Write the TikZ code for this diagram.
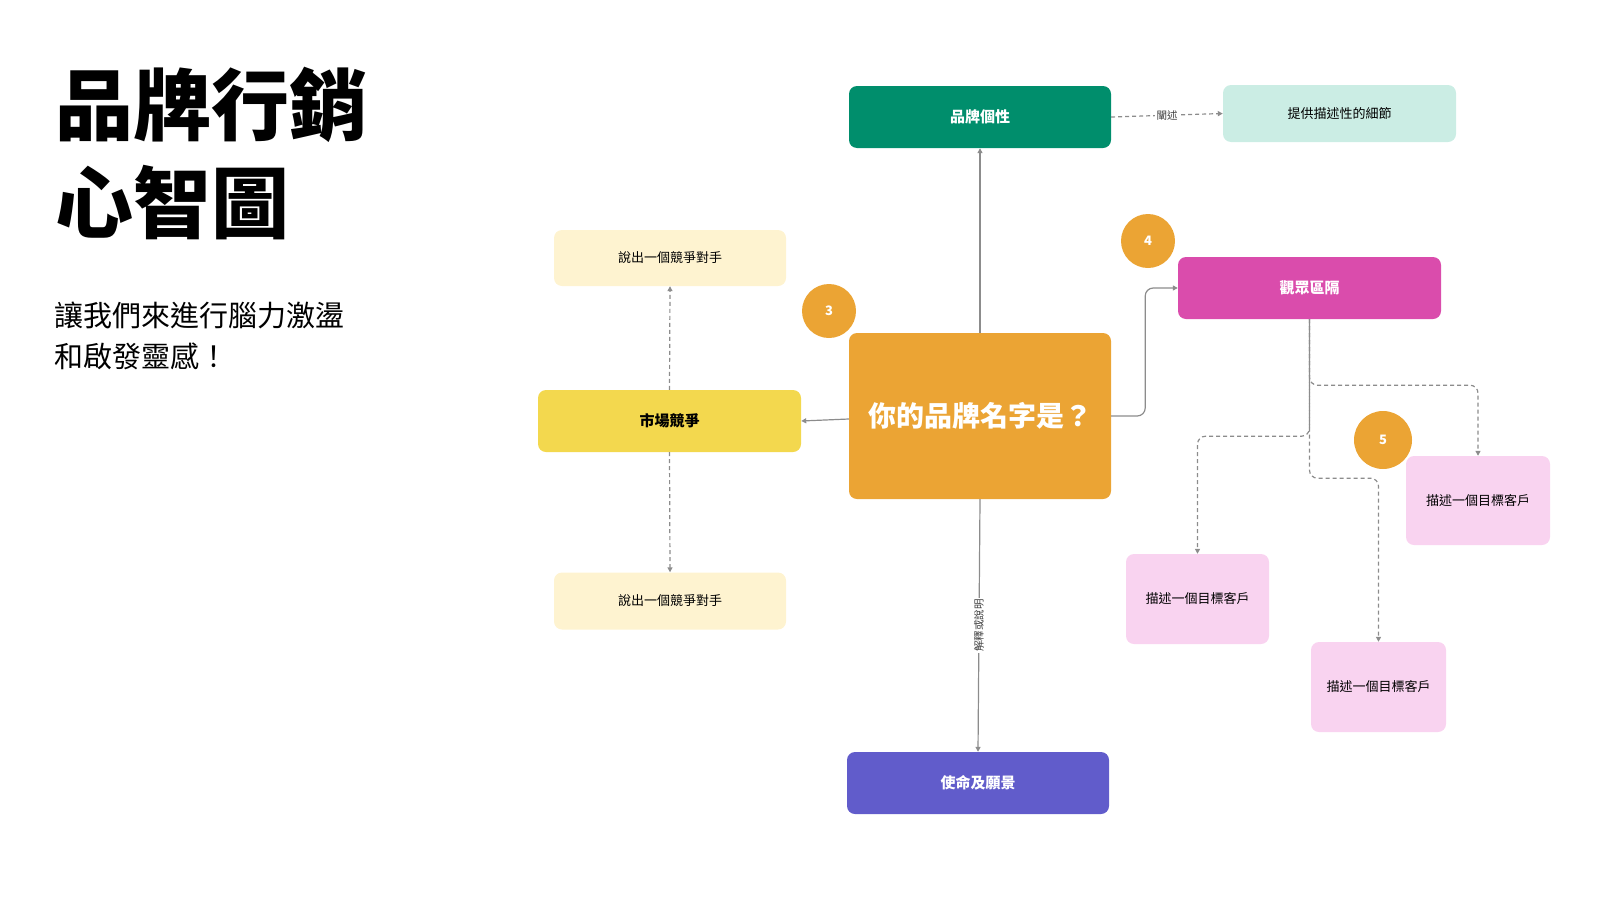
\documentclass[tikz,border=0pt]{standalone}
\usepackage{fontspec}
\setmainfont{Noto Sans CJK TC}
\usetikzlibrary{arrows.meta}
\definecolor{teal}{RGB}{0,142,108}
\definecolor{lteal}{RGB}{203,237,228}
\definecolor{orangec}{RGB}{235,164,52}
\definecolor{magentac}{RGB}{218,76,172}
\definecolor{yellowc}{RGB}{243,216,78}
\definecolor{lyellow}{RGB}{254,243,208}
\definecolor{purplec}{RGB}{97,92,203}
\definecolor{pinkc}{RGB}{249,211,240}
\definecolor{lineg}{RGB}{140,140,140}
\newcommand{\fs}[1]{\fontsize{#1}{#1}\selectfont}
\begin{document}
\begin{tikzpicture}[x=1pt,y=-1pt,
  boxn/.style={rectangle, rounded corners=8pt, inner sep=0pt, align=center},
  circn/.style={circle, fill=orangec, inner sep=0pt, text=white, font=\fs{13}\bfseries},
  conn/.style={draw=lineg, line width=1.2pt},
  arr/.style={-{Triangle[length=5pt,width=5pt]}},
  dsh/.style={dash pattern=on 4pt off 3pt},
  lbl/.style={fill=white, inner sep=1.5pt, text=black!75, font=\fs{10.5}}
]
\useasboundingbox (0,0) rectangle (1600,900);

% title
\node[anchor=west, inner sep=0pt, font=\fs{78}\bfseries] (t1) at (55,105) {品牌行銷};
\node[anchor=west, inner sep=0pt, font=\fs{78}\bfseries] (t2) at (55,203) {心智圖};
\node[anchor=west, inner sep=0pt, font=\fs{29}] (s1) at (54,315) {讓我們來進行腦力激盪};
\node[anchor=west, inner sep=0pt, font=\fs{29}] (s2) at (54,356) {和啟發靈感！};

% nodes
\node[boxn, fill=teal, text=white, font=\fs{15}\bfseries, minimum width=262pt, minimum height=62pt] (brand) at (980,117) {品牌個性};
\node[boxn, fill=lteal, font=\fs{13}, minimum width=233pt, minimum height=57pt] (detail) at (1339.5,113.5) {提供描述性的細節};
\node[boxn, fill=orangec, text=white, font=\fs{28}\bfseries, minimum width=262pt, minimum height=166pt] (center) at (980,416) {你的品牌名字是？};
\node[boxn, fill=magentac, text=white, font=\fs{15}\bfseries, minimum width=263pt, minimum height=62pt] (aud) at (1309.5,288) {觀眾區隔};
\node[boxn, fill=yellowc, font=\fs{15}\bfseries, minimum width=263pt, minimum height=62pt] (market) at (669.5,421) {市場競爭};
\node[boxn, fill=lyellow, font=\fs{13}, minimum width=232pt, minimum height=56pt] (comp1) at (670,258) {說出一個競爭對手};
\node[boxn, fill=lyellow, font=\fs{13}, minimum width=232pt, minimum height=57pt] (comp2) at (670,601) {說出一個競爭對手};
\node[boxn, fill=purplec, text=white, font=\fs{15}\bfseries, minimum width=262pt, minimum height=62pt] (mission) at (978,783) {使命及願景};
\node[boxn, fill=pinkc, font=\fs{13}, minimum width=144pt, minimum height=89pt] (pinkR) at (1478,500.5) {描述一個目標客戶};
\node[boxn, fill=pinkc, font=\fs{13}, minimum width=143pt, minimum height=90pt] (pinkL) at (1197.5,599) {描述一個目標客戶};
\node[boxn, fill=pinkc, font=\fs{13}, minimum width=135pt, minimum height=90pt] (pinkM) at (1378.5,687) {描述一個目標客戶};

% circles
\node[circn, minimum size=54pt] (c3) at (829,311) {3};
\node[circn, minimum size=54pt] (c4) at (1148,241) {4};
\node[circn, minimum size=58pt] (c5) at (1383,440) {5};

% connectors
\draw[conn, arr] (center.north) -- (brand.south);
\draw[conn, arr] ([yshift=-3pt]center.west) -- (market.east);
\draw[conn, arr] (center.south) -- node[lbl, rotate=90] {解釋或說明} (mission.north);
\draw[conn, arr, rounded corners=8pt] (center.east) -- ++(34,0) |- (aud.west);
\draw[conn, arr, dsh] (brand.east) -- node[lbl] {闡述} (detail.west);
\draw[conn, arr, dsh] (market.north) -- (comp1.south);
\draw[conn, arr, dsh] (market.south) -- (comp2.north);
\draw[conn, arr, dsh, rounded corners=8pt] (aud.south) -- ++(0,66) -| (pinkR.north);
\draw[conn, arr, dsh, rounded corners=8pt] (aud.south) -- ++(0,117) -| (pinkL.north);
\draw[conn, arr, dsh, dash phase=3.5pt, rounded corners=8pt] (aud.south) -- ++(0,159) -| (pinkM.north);
\end{tikzpicture}
\end{document}
